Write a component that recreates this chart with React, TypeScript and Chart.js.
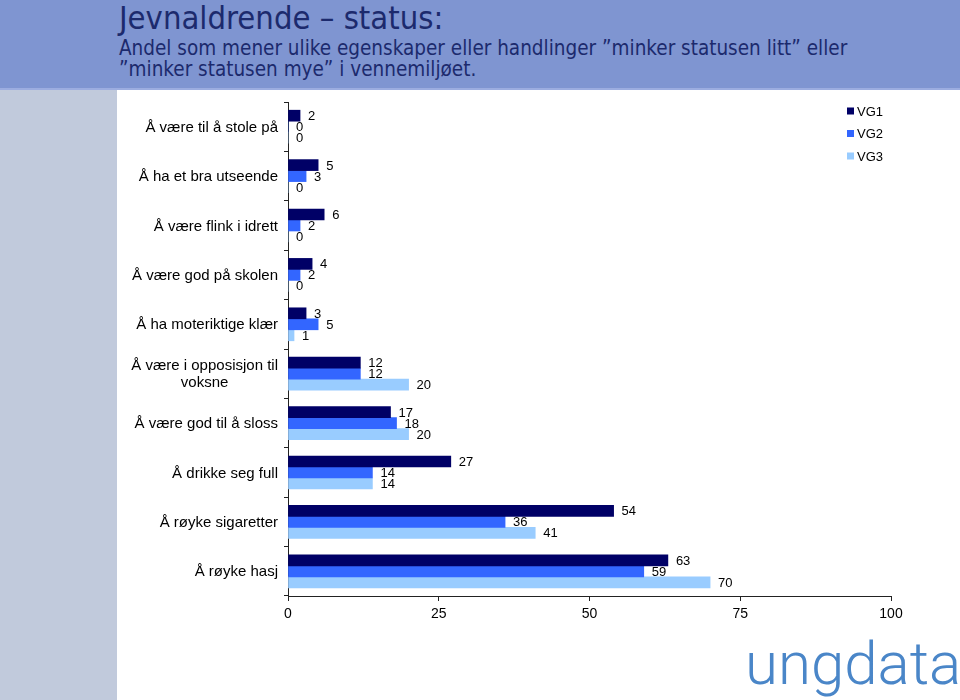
import React, { useEffect, useRef } from "react";
import { Chart, registerables } from "chart.js";

Chart.register(...registerables);

const categories: (string | string[])[] = [
  "Å være til å stole på",
  "Å ha et bra utseende",
  "Å være flink i idrett",
  "Å være god på skolen",
  "Å ha moteriktige klær",
  ["Å være i opposisjon til", "voksne"],
  "Å være god til å sloss",
  "Å drikke seg full",
  "Å røyke sigaretter",
  "Å røyke hasj",
];
const seriesNames = ["VG1", "VG2", "VG3"];
const vg1 = [2, 5, 6, 4, 3, 12, 17, 27, 54, 63];
const vg2 = [0, 3, 2, 2, 5, 12, 18, 14, 36, 59];
const vg3 = [0, 0, 0, 0, 1, 20, 20, 14, 41, 70];
const xTicks = [0, 25, 50, 75, 100];
const colors = ["#000066", "#3366ff", "#99ccff"];

const FONT = "Arial, 'Liberation Sans', sans-serif";

const drawPlugin = {
  id: "customDraw",
  afterDraw(chart: any) {
    const ctx = chart.ctx;
    const area = chart.chartArea;
    const yScale = chart.scales.y;
    ctx.save();
    // value labels
    ctx.font = `13px ${FONT}`;
    ctx.fillStyle = "#000";
    ctx.textAlign = "left";
    ctx.textBaseline = "middle";
    chart.data.datasets.forEach((ds: any, di: number) => {
      const meta = chart.getDatasetMeta(di);
      meta.data.forEach((el: any, i: number) => {
        ctx.fillText(String(ds.data[i]), el.x + 8, el.y + 1);
      });
    });
    // category labels
    ctx.font = `15px ${FONT}`;
    ctx.textAlign = "center";
    const right = yScale.right - 10;
    categories.forEach((lab, i) => {
      const lines = Array.isArray(lab) ? lab : [lab];
      const y = yScale.getPixelForValue(i);
      const maxW = Math.max(...lines.map((l) => ctx.measureText(l).width));
      const cx = right - maxW / 2;
      const lh = 17;
      lines.forEach((l, k) => {
        ctx.fillText(l, cx, y - ((lines.length - 1) * lh) / 2 + k * lh + 1);
      });
    });
    // legend
    ctx.font = `13px ${FONT}`;
    ctx.textAlign = "left";
    const lx = area.right - 44;
    seriesNames.forEach((n, i) => {
      const ly = area.top + 9 + i * 22.5;
      ctx.fillStyle = colors[i];
      ctx.fillRect(lx, ly - 3.5, 7, 7);
      ctx.fillStyle = "#000";
      ctx.fillText(n, lx + 10, ly + 1);
    });
    ctx.restore();
  },
};

function BarChart() {
  const ref = useRef<HTMLCanvasElement>(null);
  useEffect(() => {
    if (!ref.current) return;
    const chart = new Chart(ref.current, {
      type: "bar",
      data: {
        labels: categories.map((c) => (Array.isArray(c) ? c.join(" ") : c)),
        datasets: [vg1, vg2, vg3].map((d, i) => ({
          label: seriesNames[i],
          data: d,
          backgroundColor: colors[i],
          borderWidth: 0,
          barThickness: 11,
        })),
      },
      options: {
        indexAxis: "y",
        animation: false,
        responsive: false,
        maintainAspectRatio: false,
        layout: { padding: { top: 12, right: 69, left: 0, bottom: 0 } },
        plugins: {
          legend: { display: false },
          tooltip: { enabled: false },
        },
        scales: {
          x: {
            min: 0,
            max: 100,
            afterBuildTicks: (s: any) => {
              s.ticks = xTicks.map((v) => ({ value: v }));
            },
            afterFit: (s: any) => {
              s.height = 34;
            },
            border: { color: "#222", width: 1 },
            grid: { drawOnChartArea: false, tickLength: 5, color: "#222" },
            ticks: {
              color: "#000",
              font: { family: FONT, size: 14 },
              padding: 5,
              maxRotation: 0,
            },
          },
          y: {
            afterFit: (s: any) => {
              s.width = 170;
            },
            border: { color: "#222", width: 1 },
            grid: { drawOnChartArea: false, tickLength: 4, color: "#222", offset: true },
            ticks: { color: "rgba(0,0,0,0)", font: { family: FONT, size: 15 } },
          },
        },
      },
      plugins: [drawPlugin],
    });
    return () => chart.destroy();
  }, []);
  return <canvas ref={ref} width={842} height={540} style={{ position: "absolute", left: 118, top: 90, width: 842, height: 540 }} />;
}

export default function App() {
  return (
    <div style={{ position: "fixed", left: 0, top: 0, width: 960, height: 700, background: "#fff", overflow: "hidden" }}>
      <div style={{ position: "absolute", left: 0, top: 0, width: 960, height: 88, background: "#7f95d1", borderBottom: "2px solid #9cade0" }} />
      <div style={{ position: "absolute", left: 0, top: 90, width: 117, height: 610, background: "#c1cadc" }} />
      <div style={{ position: "absolute", left: 119, top: -1, color: "#1c2a6d", fontFamily: "'DejaVu Sans Condensed', 'DejaVu Sans', sans-serif", whiteSpace: "nowrap" }}>
        <div style={{ fontSize: 32.5, lineHeight: "38px" }}>Jevnaldrende – status:</div>
        <div style={{ fontSize: 20.5, lineHeight: "21px", marginTop: 1 }}>
          Andel som mener ulike egenskaper eller handlinger ”minker statusen litt” eller
          <br />
          ”minker statusen mye” i vennemiljøet.
        </div>
      </div>
      <BarChart />
      <div style={{ position: "absolute", left: 745, top: 634, color: "#4a86c8", fontFamily: "Roboto, 'Noto Sans', sans-serif", fontWeight: 300, fontSize: 60, lineHeight: "60px", whiteSpace: "nowrap" }}>
        ungdata
      </div>
    </div>
  );
}
